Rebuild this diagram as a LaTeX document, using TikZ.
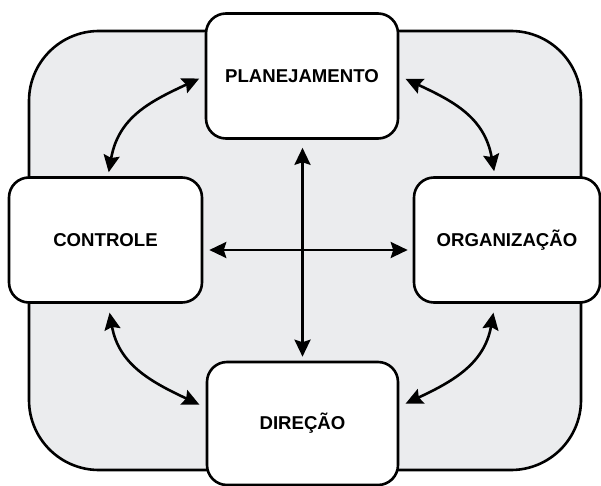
\documentclass[tikz,border=0pt]{standalone}
\usepackage{fontspec}
\setmainfont{Liberation Sans}
\usetikzlibrary{arrows.meta,calc}
\definecolor{bggray}{RGB}{235,236,238}
\begin{document}
\begin{tikzpicture}[x=1pt,y=1pt,
  box/.style={draw=black,fill=white,line width=2.6pt,rounded corners=20pt,inner sep=0pt,
    font=\fontsize{18.6}{22}\selectfont\bfseries,minimum height=125pt},
  tip/.tip={Stealth[length=17pt,width=16pt,inset=2.5pt]},
  conn/.style={line width=2.6pt,tip-tip}
]
\useasboundingbox (0,0) rectangle (601,-486);
\path[draw=black,fill=bggray,line width=2.6pt,rounded corners=70pt] (29,-31) rectangle (581,-470);
\node[box,minimum width=192pt] (P) at (302,-76) {PLANEJAMENTO};
\node[box,minimum width=193pt] (C) at (105.5,-240) {CONTROLE};
\node[box,minimum width=186pt] (O) at (507,-240) {ORGANIZAÇÃO};
\node[box,minimum width=191pt,minimum height=123pt] (D) at (302.5,-423.5) {DIREÇÃO};
% straight arrows
\draw[conn,shorten <=8pt,shorten >=4pt] ($(P.south)+(0.5,0)$) -- ($(D.north)+(0,0)$);
\draw[conn,shorten <=6pt,shorten >=5pt] ($(C.east)+(0,-10)$) -- ($(O.west)+(0,-10)$);
% curved arrows
\draw[conn,shorten <=4pt,shorten >=6pt] ($(C.north)+(2.5,0)$) to[out=80,in=205,looseness=1.1] (P.west);
\draw[conn,shorten <=7pt,shorten >=5pt] (P.east) to[out=-25,in=100,looseness=1.1] ($(O.north)+(-12,0)$);
\draw[conn,shorten <=9pt,shorten >=7pt] ($(C.south)+(2.5,0)$) to[out=-80,in=155,looseness=1.1] ($(D.west)+(0,16)$);
\draw[conn,shorten <=9pt,shorten >=7pt] ($(O.south)+(-12,0)$) to[out=-100,in=25,looseness=1.1] ($(D.east)+(0,17)$);
\end{tikzpicture}
\end{document}
